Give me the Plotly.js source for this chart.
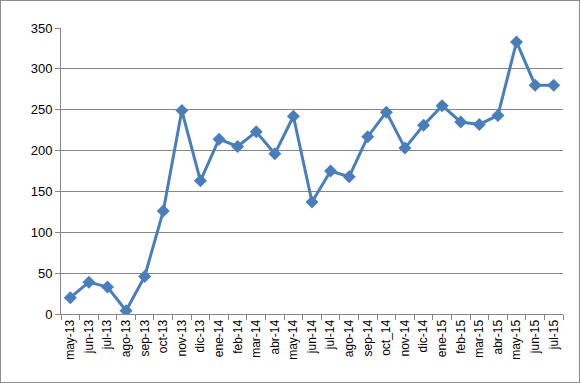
<!DOCTYPE html>
<html>
<head>
<meta charset="utf-8">
<script src="https://cdn.plot.ly/plotly-3.0.1.min.js"></script>
<style>
html,body{margin:0;padding:0;background:#fff;}
#wrap{position:relative;width:580px;height:383px;}
#chart{width:580px;height:383px;}
#frame{position:absolute;left:0;top:0;width:578px;height:381px;border:1px solid #8c8c8c;pointer-events:none;}
</style>
</head>
<body>
<div id="wrap"><div id="chart"></div><div id="frame"></div></div>
<script>
var categories = ["may-13","jun-13","jul-13","ago-13","sep-13","oct-13","nov-13","dic-13",
  "ene-14","feb-14","mar-14","abr-14","may-14","jun-14","jul-14","ago-14","sep-14","oct_14","nov-14","dic-14",
  "ene-15","feb-15","mar-15","abr-15","may-15","jun-15","jul-15"];
var values = [20, 39, 33, 4, 46, 126, 249, 163,
  214, 205, 223, 196, 242, 137, 175, 168, 217, 247, 203, 231,
  255, 235, 232, 243, 333, 280, 280];
var yTicks = [0, 50, 100, 150, 200, 250, 300, 350];

var trace = {
  x: categories,
  y: values,
  type: 'scatter',
  mode: 'lines+markers',
  line: {color: '#4A7EBB', width: 3},
  marker: {symbol: 'diamond', size: 10, color: '#4A7EBB', line: {width: 0}},
  hoverinfo: 'x+y'
};

var layout = {
  width: 580, height: 383,
  margin: {l: 61, r: 17, t: 28, b: 69, pad: 0},
  paper_bgcolor: '#fff', plot_bgcolor: '#fff',
  showlegend: false,
  font: {family: 'Liberation Sans, Arial, sans-serif', size: 12, color: '#000'},
  xaxis: {
    type: 'category',
    categoryorder: 'array', categoryarray: categories,
    tickmode: 'array', tickvals: categories, ticktext: categories,
    tickangle: -90,
    ticks: 'outside', ticklen: 5, tickcolor: '#868686', tickwidth: 1,
    tickson: 'boundaries',
    showline: true, linecolor: '#868686', linewidth: 1,
    showgrid: false, zeroline: false,
    range: [-0.5, categories.length - 0.5],
    tickfont: {size: 12, family: 'Liberation Sans, Arial, sans-serif', color: '#000'}
  },
  yaxis: {
    range: [0, 350],
    tickmode: 'array', tickvals: yTicks, ticktext: yTicks.map(String),
    ticks: 'outside', ticklen: 5, tickcolor: '#868686', tickwidth: 1,
    showline: true, linecolor: '#868686', linewidth: 1,
    showgrid: true, gridcolor: '#868686', gridwidth: 1,
    zeroline: false,
    tickfont: {size: 13, family: 'Liberation Sans, Arial, sans-serif', color: '#000'}
  }
};

Plotly.newPlot('chart', [trace], layout, {displayModeBar: false, staticPlot: true});
</script>
</body>
</html>
